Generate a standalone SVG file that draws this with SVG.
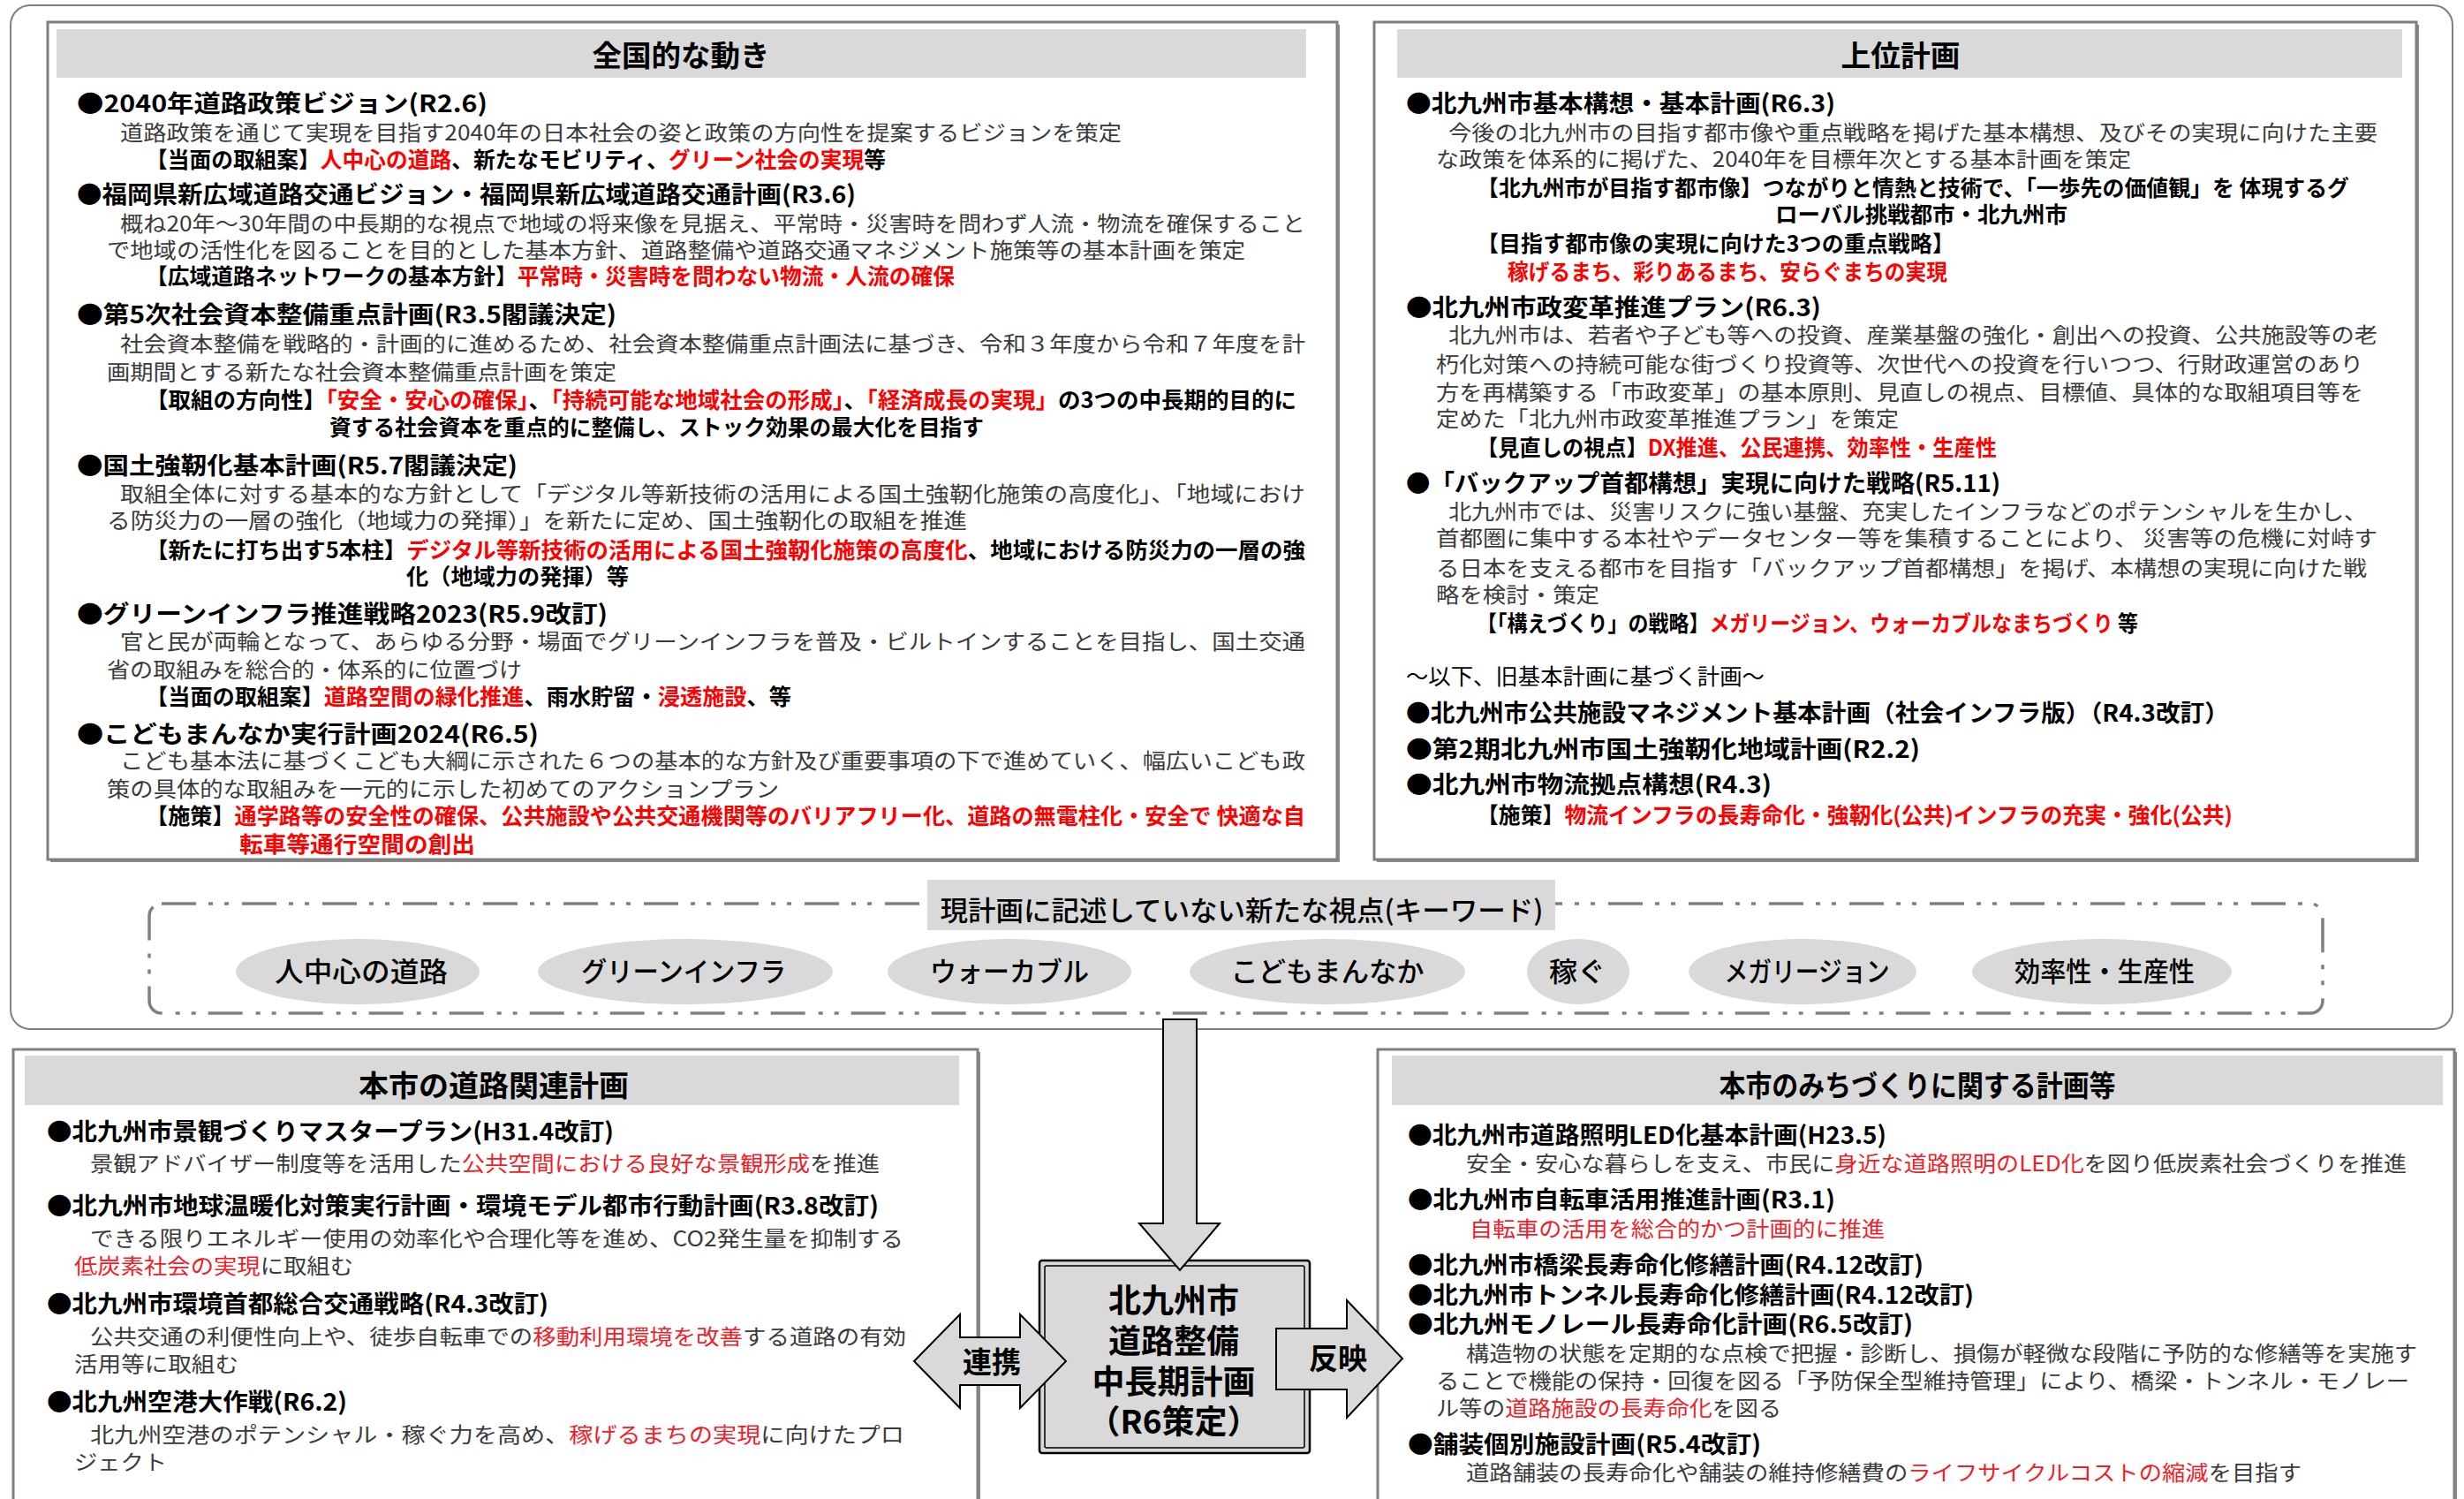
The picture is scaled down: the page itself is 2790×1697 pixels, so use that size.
<svg xmlns="http://www.w3.org/2000/svg" width="2790" height="1697" viewBox="0 0 2790 1697">
<style>
text { font-family: "Noto Sans CJK JP", "Noto Sans CJK SC", sans-serif; }
.h { font-size: 27px; font-weight: 700; fill: #000; }
.s { font-size: 25px; font-weight: 700; fill: #000; }
.b { font-size: 24px; fill: #3a3a3a; }
.n { font-size: 25px; fill: #000; }
.r { fill: #ff0000; }
.rb { fill: #f01e28; }
.t { font-size: 33px; font-weight: 700; fill: #000; text-anchor: middle; }
.kw { font-size: 31px; font-weight: 500; fill: #000; text-anchor: middle; }
.box { fill: #fff; stroke: #7f7f7f; stroke-width: 3; }
.shadow { fill: #8c8c8c; }
.hdr { fill: #d9d9d9; }
.ell { fill: #d9d9d9; }
.arrow { fill: #d9d9d9; stroke: #000; stroke-width: 2; stroke-linejoin: miter; }
.ctr { font-size: 37px; font-weight: 700; fill: #000; text-anchor: middle; }
.lbl { font-size: 33px; font-weight: 700; fill: #000; text-anchor: middle; }
</style>
<rect width="2790" height="1697" fill="#fff"/>

<g id="outer-frame">
<rect x="12" y="6" width="2765" height="1159" rx="22" fill="none" stroke="#808080" stroke-width="2"/>
</g>

<g id="national">
<rect class="shadow" x="57" y="28" width="1460" height="948"/>
<rect class="box" x="54" y="25" width="1460" height="948"/>
<rect class="hdr" x="64" y="33" width="1415" height="55"/>
<text class="t" x="771" y="75" textLength="201" lengthAdjust="spacingAndGlyphs">全国的な動き</text>
<text class="h" x="87" y="127" textLength="465" lengthAdjust="spacingAndGlyphs">●2040年道路政策ビジョン(R2.6)</text>
<text class="b" x="136" y="159" textLength="1134" lengthAdjust="spacingAndGlyphs">道路政策を通じて実現を目指す2040年の日本社会の姿と政策の方向性を提案するビジョンを策定</text>
<text class="s" x="165" y="190" textLength="838" lengthAdjust="spacingAndGlyphs">【当面の取組案】<tspan class="r">人中心の道路</tspan>、新たなモビリティ、<tspan class="r">グリーン社会の実現</tspan>等</text>
<text class="h" x="87" y="230" textLength="882" lengthAdjust="spacingAndGlyphs">●福岡県新広域道路交通ビジョン・福岡県新広域道路交通計画(R3.6)</text>
<text class="b" x="136" y="262" textLength="1342" lengthAdjust="spacingAndGlyphs">概ね20年～30年間の中長期的な視点で地域の将来像を見据え、平常時・災害時を問わず人流・物流を確保すること</text>
<text class="b" x="121" y="292" textLength="1289" lengthAdjust="spacingAndGlyphs">で地域の活性化を図ることを目的とした基本方針、道路整備や道路交通マネジメント施策等の基本計画を策定</text>
<text class="s" x="165" y="322" textLength="916" lengthAdjust="spacingAndGlyphs">【広域道路ネットワークの基本方針】<tspan class="r">平常時・災害時を問わない物流・人流の確保</tspan></text>
<text class="h" x="87" y="366" textLength="611" lengthAdjust="spacingAndGlyphs">●第5次社会資本整備重点計画(R3.5閣議決定)</text>
<text class="b" x="136" y="398" textLength="1342" lengthAdjust="spacingAndGlyphs">社会資本整備を戦略的・計画的に進めるため、社会資本整備重点計画法に基づき、令和３年度から令和７年度を計</text>
<text class="b" x="121" y="430" textLength="577" lengthAdjust="spacingAndGlyphs">画期間とする新たな社会資本整備重点計画を策定</text>
<text class="s" x="165" y="462" textLength="1303" lengthAdjust="spacingAndGlyphs">【取組の方向性】<tspan class="r">「安全・安心の確保」</tspan>、<tspan class="r">「持続可能な地域社会の形成」</tspan>、<tspan class="r">「経済成長の実現」</tspan>の3つの中長期的目的に</text>
<text class="s" x="373" y="493" textLength="741" lengthAdjust="spacingAndGlyphs">資する社会資本を重点的に整備し、ストック効果の最大化を目指す</text>
<text class="h" x="87" y="537" textLength="499" lengthAdjust="spacingAndGlyphs">●国土強靭化基本計画(R5.7閣議決定)</text>
<text class="b" x="136" y="568" textLength="1342" lengthAdjust="spacingAndGlyphs">取組全体に対する基本的な方針として「デジタル等新技術の活用による国土強靭化施策の高度化」、「地域におけ</text>
<text class="b" x="121" y="598" textLength="974" lengthAdjust="spacingAndGlyphs">る防災力の一層の強化（地域力の発揮）」を新たに定め、国土強靭化の取組を推進</text>
<text class="s" x="165" y="632" textLength="1313" lengthAdjust="spacingAndGlyphs">【新たに打ち出す5本柱】<tspan class="r">デジタル等新技術の活用による国土強靭化施策の高度化</tspan>、地域における防災力の一層の強</text>
<text class="s" x="460" y="662" textLength="252" lengthAdjust="spacingAndGlyphs">化（地域力の発揮）等</text>
<text class="h" x="87" y="705" textLength="601" lengthAdjust="spacingAndGlyphs">●グリーンインフラ推進戦略2023(R5.9改訂)</text>
<text class="b" x="136" y="735" textLength="1342" lengthAdjust="spacingAndGlyphs">官と民が両輪となって、あらゆる分野・場面でグリーンインフラを普及・ビルトインすることを目指し、国土交通</text>
<text class="b" x="121" y="767" textLength="470" lengthAdjust="spacingAndGlyphs">省の取組みを総合的・体系的に位置づけ</text>
<text class="s" x="165" y="798" textLength="731" lengthAdjust="spacingAndGlyphs">【当面の取組案】<tspan class="r">道路空間の緑化推進</tspan>、雨水貯留・<tspan class="r">浸透施設</tspan>、等</text>
<text class="h" x="87" y="841" textLength="523" lengthAdjust="spacingAndGlyphs">●こどもまんなか実行計画2024(R6.5)</text>
<text class="b" x="136" y="870" textLength="1342" lengthAdjust="spacingAndGlyphs">こども基本法に基づくこども大綱に示された６つの基本的な方針及び重要事項の下で進めていく、幅広いこども政</text>
<text class="b" x="121" y="902" textLength="761" lengthAdjust="spacingAndGlyphs">策の具体的な取組みを一元的に示した初めてのアクションプラン</text>
<text class="s" x="165" y="933" textLength="1313" lengthAdjust="spacingAndGlyphs">【施策】<tspan class="r">通学路等の安全性の確保、公共施設や公共交通機関等のバリアフリー化、道路の無電柱化・安全で 快適な自</tspan></text>
<text class="s r" x="271" y="965" textLength="267" lengthAdjust="spacingAndGlyphs">転車等通行空間の創出</text>
</g>

<g id="upper">
<rect class="shadow" x="1559" y="28" width="1180" height="948"/>
<rect class="box" x="1556" y="25" width="1180" height="948"/>
<rect class="hdr" x="1582" y="33" width="1138" height="55"/>
<text class="t" x="2152" y="75" textLength="135" lengthAdjust="spacingAndGlyphs">上位計画</text>
<text class="h" x="1592" y="127" textLength="486" lengthAdjust="spacingAndGlyphs">●北九州市基本構想・基本計画(R6.3)</text>
<text class="b" x="1640" y="159" textLength="1052" lengthAdjust="spacingAndGlyphs">今後の北九州市の目指す都市像や重点戦略を掲げた基本構想、及びその実現に向けた主要</text>
<text class="b" x="1626" y="189" textLength="787" lengthAdjust="spacingAndGlyphs">な政策を体系的に掲げた、2040年を目標年次とする基本計画を策定</text>
<text class="s" x="1672" y="222" textLength="988" lengthAdjust="spacingAndGlyphs">【北九州市が目指す都市像】つながりと情熱と技術で、「一歩先の価値観」を 体現するグ</text>
<text class="s" x="2010" y="252" textLength="331" lengthAdjust="spacingAndGlyphs">ローバル挑戦都市・北九州市</text>
<text class="s" x="1672" y="285" textLength="541" lengthAdjust="spacingAndGlyphs">【目指す都市像の実現に向けた3つの重点戦略】</text>
<text class="s r" x="1707" y="317" textLength="498" lengthAdjust="spacingAndGlyphs">稼げるまち、彩りあるまち、安らぐまちの実現</text>
<text class="h" x="1592" y="358" textLength="470" lengthAdjust="spacingAndGlyphs">●北九州市政変革推進プラン(R6.3)</text>
<text class="b" x="1640" y="388" textLength="1052" lengthAdjust="spacingAndGlyphs">北九州市は、若者や子ども等への投資、産業基盤の強化・創出への投資、公共施設等の老</text>
<text class="b" x="1626" y="421" textLength="1050" lengthAdjust="spacingAndGlyphs">朽化対策への持続可能な街づくり投資等、次世代への投資を行いつつ、行財政運営のあり</text>
<text class="b" x="1626" y="453" textLength="1050" lengthAdjust="spacingAndGlyphs">方を再構築する「市政変革」の基本原則、見直しの視点、目標値、具体的な取組項目等を</text>
<text class="b" x="1626" y="483" textLength="524" lengthAdjust="spacingAndGlyphs">定めた「北九州市政変革推進プラン」を策定</text>
<text class="s" x="1672" y="516" textLength="589" lengthAdjust="spacingAndGlyphs">【見直しの視点】<tspan class="r">DX推進、公民連携、効率性・生産性</tspan></text>
<text class="h" x="1592" y="557" textLength="673" lengthAdjust="spacingAndGlyphs">●「バックアップ首都構想」実現に向けた戦略(R5.11)</text>
<text class="b" x="1640" y="588" textLength="1040" lengthAdjust="spacingAndGlyphs">北九州市では、災害リスクに強い基盤、充実したインフラなどのポテンシャルを生かし、</text>
<text class="b" x="1626" y="618" textLength="1066" lengthAdjust="spacingAndGlyphs">首都圏に集中する本社やデータセンター等を集積することにより、 災害等の危機に対峙す</text>
<text class="b" x="1626" y="652" textLength="1054" lengthAdjust="spacingAndGlyphs">る日本を支える都市を目指す「バックアップ首都構想」を掲げ、本構想の実現に向けた戦</text>
<text class="b" x="1626" y="682" textLength="185" lengthAdjust="spacingAndGlyphs">略を検討・策定</text>
<text class="s" x="1672" y="715" textLength="749" lengthAdjust="spacingAndGlyphs">【「構えづくり」の戦略】<tspan class="r">メガリージョン、ウォーカブルなまちづくり</tspan> 等</text>
<text class="n" x="1592" y="775" textLength="406" lengthAdjust="spacingAndGlyphs">～以下、旧基本計画に基づく計画～</text>
<text class="h" x="1592" y="817" textLength="932" lengthAdjust="spacingAndGlyphs">●北九州市公共施設マネジメント基本計画（社会インフラ版）（R4.3改訂）</text>
<text class="h" x="1592" y="858" textLength="582" lengthAdjust="spacingAndGlyphs">●第2期北九州市国土強靭化地域計画(R2.2)</text>
<text class="h" x="1592" y="898" textLength="414" lengthAdjust="spacingAndGlyphs">●北九州市物流拠点構想(R4.3)</text>
<text class="s" x="1672" y="932" textLength="856" lengthAdjust="spacingAndGlyphs">【施策】<tspan class="r">物流インフラの長寿命化・強靭化(公共)インフラの充実・強化(公共)</tspan></text>
</g>

<g id="keywords">
<rect x="169" y="1023" width="2461" height="124" rx="14" fill="none" stroke="#808080" stroke-width="3.5" stroke-dasharray="39 14 5 13 5 15"/>
<rect class="hdr" x="1050" y="996" width="711" height="57"/>
<text x="1406" y="1042" font-size="31" text-anchor="middle" font-weight="500" textLength="683" lengthAdjust="spacingAndGlyphs">現計画に記述していない新たな視点(キーワード)</text>
<g id="kw1"><ellipse class="ell" cx="405" cy="1100" rx="138" ry="37"/><text class="kw" x="409" y="1111" textLength="196" lengthAdjust="spacingAndGlyphs">人中心の道路</text></g>
<g id="kw2"><ellipse class="ell" cx="776" cy="1100" rx="167" ry="37"/><text class="kw" x="774" y="1111" textLength="232" lengthAdjust="spacingAndGlyphs">グリーンインフラ</text></g>
<g id="kw3"><ellipse class="ell" cx="1143" cy="1100" rx="138" ry="37"/><text class="kw" x="1143" y="1111" textLength="180" lengthAdjust="spacingAndGlyphs">ウォーカブル</text></g>
<g id="kw4"><ellipse class="ell" cx="1503" cy="1100" rx="156" ry="37"/><text class="kw" x="1503" y="1111" textLength="219" lengthAdjust="spacingAndGlyphs">こどもまんなか</text></g>
<g id="kw5"><ellipse class="ell" cx="1787" cy="1100" rx="58" ry="37"/><text class="kw" x="1786" y="1111" textLength="64" lengthAdjust="spacingAndGlyphs">稼ぐ</text></g>
<g id="kw6"><ellipse class="ell" cx="2041" cy="1100" rx="129" ry="37"/><text class="kw" x="2046" y="1111" textLength="187" lengthAdjust="spacingAndGlyphs">メガリージョン</text></g>
<g id="kw7"><ellipse class="ell" cx="2380" cy="1100" rx="147" ry="37"/><text class="kw" x="2383" y="1111" textLength="204" lengthAdjust="spacingAndGlyphs">効率性・生産性</text></g>
</g>

<g id="road-plans">
<rect class="shadow" x="18" y="1191" width="1092" height="540"/>
<rect class="box" x="15" y="1188" width="1092" height="540"/>
<rect class="hdr" x="28" y="1195" width="1058" height="56"/>
<text class="t" x="559" y="1241" textLength="306" lengthAdjust="spacingAndGlyphs">本市の道路関連計画</text>
<text class="h" x="53" y="1291" textLength="642" lengthAdjust="spacingAndGlyphs">●北九州市景観づくりマスタープラン(H31.4改訂)</text>
<text class="b" x="102" y="1326" textLength="894" lengthAdjust="spacingAndGlyphs">景観アドバイザー制度等を活用した<tspan class="rb">公共空間における良好な景観形成</tspan>を推進</text>
<text class="h" x="53" y="1375" textLength="942" lengthAdjust="spacingAndGlyphs">●北九州市地球温暖化対策実行計画・環境モデル都市行動計画(R3.8改訂)</text>
<text class="b" x="102" y="1411" textLength="921" lengthAdjust="spacingAndGlyphs">できる限りエネルギー使用の効率化や合理化等を進め、CO2発生量を抑制する</text>
<text class="b" x="84" y="1442" textLength="316" lengthAdjust="spacingAndGlyphs"><tspan class="rb">低炭素社会の実現</tspan>に取組む</text>
<text class="h" x="53" y="1486" textLength="568" lengthAdjust="spacingAndGlyphs">●北九州市環境首都総合交通戦略(R4.3改訂)</text>
<text class="b" x="102" y="1522" textLength="924" lengthAdjust="spacingAndGlyphs">公共交通の利便性向上や、徒歩自転車での<tspan class="rb">移動利用環境を改善</tspan>する道路の有効</text>
<text class="b" x="84" y="1553" textLength="186" lengthAdjust="spacingAndGlyphs">活用等に取組む</text>
<text class="h" x="53" y="1597" textLength="340" lengthAdjust="spacingAndGlyphs">●北九州空港大作戦(R6.2)</text>
<text class="b" x="102" y="1633" textLength="922" lengthAdjust="spacingAndGlyphs">北九州空港のポテンシャル・稼ぐ力を高め、<tspan class="rb">稼げるまちの実現</tspan>に向けたプロ</text>
<text class="b" x="84" y="1664" textLength="105" lengthAdjust="spacingAndGlyphs">ジェクト</text>
</g>

<g id="michi-plans">
<rect class="shadow" x="1563" y="1191" width="1219" height="540"/>
<rect class="box" x="1560" y="1188" width="1219" height="540"/>
<rect class="hdr" x="1576" y="1195" width="1190" height="56"/>
<text class="t" x="2171" y="1241" textLength="449" lengthAdjust="spacingAndGlyphs">本市のみちづくりに関する計画等</text>
<text class="h" x="1594" y="1295" textLength="542" lengthAdjust="spacingAndGlyphs">●北九州市道路照明LED化基本計画(H23.5)</text>
<text class="b" x="1660" y="1326" textLength="1065" lengthAdjust="spacingAndGlyphs">安全・安心な暮らしを支え、市民に<tspan class="rb">身近な道路照明のLED化</tspan>を図り低炭素社会づくりを推進</text>
<text class="h" x="1594" y="1368" textLength="484" lengthAdjust="spacingAndGlyphs">●北九州市自転車活用推進計画(R3.1)</text>
<text class="b rb" x="1664" y="1400" textLength="470" lengthAdjust="spacingAndGlyphs">自転車の活用を総合的かつ計画的に推進</text>
<text class="h" x="1594" y="1442" textLength="584" lengthAdjust="spacingAndGlyphs">●北九州市橋梁長寿命化修繕計画(R4.12改訂)</text>
<text class="h" x="1594" y="1476" textLength="641" lengthAdjust="spacingAndGlyphs">●北九州市トンネル長寿命化修繕計画(R4.12改訂)</text>
<text class="h" x="1594" y="1509" textLength="572" lengthAdjust="spacingAndGlyphs">●北九州モノレール長寿命化計画(R6.5改訂)</text>
<text class="b" x="1660" y="1541" textLength="1077" lengthAdjust="spacingAndGlyphs">構造物の状態を定期的な点検で把握・診断し、損傷が軽微な段階に予防的な修繕等を実施す</text>
<text class="b" x="1626" y="1572" textLength="1102" lengthAdjust="spacingAndGlyphs">ることで機能の保持・回復を図る「予防保全型維持管理」により、橋梁・トンネル・モノレー</text>
<text class="b" x="1626" y="1603" textLength="391" lengthAdjust="spacingAndGlyphs">ル等の<tspan class="rb">道路施設の長寿命化</tspan>を図る</text>
<text class="h" x="1594" y="1645" textLength="400" lengthAdjust="spacingAndGlyphs">●舗装個別施設計画(R5.4改訂)</text>
<text class="b" x="1660" y="1676" textLength="946" lengthAdjust="spacingAndGlyphs">道路舗装の長寿命化や舗装の維持修繕費の<tspan class="rb">ライフサイクルコストの縮減</tspan>を目指す</text>
</g>

<g id="central-plan">
<rect x="1177" y="1427" width="306" height="218" rx="3" fill="#d9d9d9" stroke="#000" stroke-width="2.5"/>
<rect x="1183" y="1433" width="294" height="206" rx="2" fill="none" stroke="#000" stroke-width="1.5"/>
<text class="ctr" x="1329" y="1486">北九州市</text>
<text class="ctr" x="1329" y="1532">道路整備</text>
<text class="ctr" x="1329" y="1578">中長期計画</text>
<text class="ctr" x="1329" y="1623">（R6策定）</text>
</g>

<g id="connectors">
<polygon class="arrow" points="1317,1154 1355,1154 1355,1385 1381,1385 1336,1438 1290,1385 1317,1385"/>
<polygon class="arrow" points="1035,1541 1087,1488 1087,1514 1155,1514 1155,1488 1207,1541 1155,1594 1155,1568 1087,1568 1087,1594"/>
<text class="lbl" x="1123" y="1554">連携</text>
<polygon class="arrow" points="1445,1504 1525,1504 1525,1472 1588,1538 1525,1605 1525,1573 1445,1573"/>
<text class="lbl" x="1515" y="1550">反映</text>
</g>
</svg>
